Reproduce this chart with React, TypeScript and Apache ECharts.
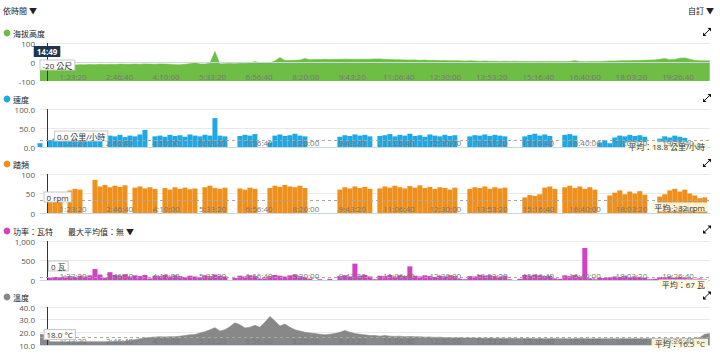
import React, { useEffect, useRef } from "react";
import * as echarts from "echarts";

// sampling grid of the activity (seconds)
const startSec = 1455;
const stepSec = 537;
const axisMinSec = 1455;
const axisMaxSec = 73440;
const timeTickSecs = [5000, 10000, 15000, 20000, 25000, 30000, 35000, 40000, 45000, 50000, 55000, 60000, 65000, 70000];
const cursorSec = 2210;
const cursorClock = "14:49";

const elevation = [
  -20, -19, -18, -17, -17, -16, -15, -16, -14, -15, -13, -14, -12, -13, -12, -13, -11, -12, -12, -11,
  -12, -10, -11, -12, -10, -11, -12, -14, -15, -12, -9, -4, -10, -11, -6, 55, -10, -9, -8, -9,
  -7, -6, -5, 2, -4, -5, -4, 5, 24, 8, 8, 9, 10, 18, 12, 13, 13, 14, 13, 14,
  14, 15, 14, 15, 15, 14, 15, 16, 16, 14, 13, 12, 12, 11, 10, 11, 9, 10, 8, 9,
  7, 8, 6, 7, 6, 5, 6, 5, 4, 5, 4, 4, 3, 4, 3, 4, 3, 3, 2, 3,
  3, 2, 3, 3, 2, 2, 3, 7, 2, 1, 2, 2, 3, 4, 5, 5, 6, 7, 7, 8,
  8, 9, 10, 11, 14, 18, 12, 13, 20, 21, 15, 8, 6, 6, 6,
];
const speed = [
  10, 0, 18, 22, 20, 24, 26, 22, 28, 25, 30, 27, 24, 0, 30, 28, 32, 26, 30, 28,
  33, 45, 0, 28, 30, 27, 32, 29, 31, 27, 33, 30, 28, 32, 30, 76, 30, 28, 0, 0,
  29, 32, 30, 34, 0, 0, 12, 30, 33, 29, 31, 35, 30, 28, 0, 0, 0, 0, 0, 0,
  27, 31, 29, 33, 30, 32, 28, 0, 29, 31, 34, 28, 32, 30, 35, 29, 31, 27, 33, 30,
  28, 32, 29, 31, 0, 0, 28, 31, 30, 33, 29, 32, 30, 28, 0, 0, 0, 28, 32, 35,
  30, 33, 29, 0, 0, 32, 34, 30, 0, 0, 0, 0, 12, 18, 10, 25, 30, 28, 32, 29,
  31, 27, 0, 0, 22, 28, 25, 30, 27, 24, 12, 8, 10, 6, 0,
];
const cadence = [
  0, 0, 45, 40, 42, 0, 58, 62, 60, 0, 0, 85, 68, 72, 66, 70, 67, 71, 0, 65,
  68, 63, 66, 62, 0, 64, 60, 66, 62, 65, 61, 63, 0, 66, 70, 64, 62, 65, 0, 0,
  63, 60, 65, 62, 0, 0, 64, 70, 67, 72, 68, 66, 70, 64, 0, 0, 0, 0, 0, 0,
  60, 66, 63, 68, 64, 67, 62, 0, 63, 68, 65, 70, 66, 63, 69, 65, 71, 64, 67, 62,
  66, 64, 60, 65, 0, 0, 62, 66, 64, 68, 62, 66, 63, 65, 0, 0, 0, 40, 46, 44,
  48, 65, 68, 62, 0, 66, 70, 64, 68, 62, 66, 60, 0, 0, 45, 52, 58, 48, 55, 50,
  56, 47, 0, 0, 42, 48, 58, 62, 55, 60, 50, 45, 38, 40, 0,
];
const power = [
  0, 0, 60, 80, 70, 90, 100, 80, 110, 90, 120, 280, 140, 60, 200, 130, 110, 150, 90, 120,
  100, 130, 40, 110, 100, 130, 90, 120, 100, 80, 110, 90, 70, 120, 100, 140, 110, 90, 0, 50,
  110, 90, 120, 100, 30, 40, 100, 130, 110, 90, 120, 140, 100, 80, 30, 0, 20, 0, 30, 0,
  100, 120, 90, 420, 110, 130, 90, 20, 110, 100, 130, 90, 120, 100, 350, 110, 90, 120, 100, 80,
  110, 90, 120, 100, 30, 20, 100, 90, 130, 110, 120, 100, 90, 110, 20, 0, 30, 130, 110, 140,
  120, 100, 110, 40, 30, 120, 100, 130, 90, 820, 40, 20, 60, 50, 70, 90, 80, 100, 70, 90,
  80, 60, 20, 30, 80, 70, 90, 60, 80, 50, 40, 30, 40, 20, 0,
];
const temperature = [
  18.4, 18.0, 12.6, 12.5, 12.6, 12.5, 12.6, 12.5, 12.6, 12.5, 12.6, 12.6, 12.5, 12.6, 12.7, 12.6, 12.8, 13.0, 13.5, 14.2,
  15.0, 15.5, 16.0, 16.3, 16.5, 16.4, 16.6, 16.5, 17.0, 17.5, 18.0, 18.2, 19.5, 20.5, 22.0, 23.7, 21.0, 22.0, 24.5, 27.5,
  26.0, 23.5, 24.0, 25.5, 24.0, 28.0, 32.5, 29.0, 25.0, 26.5, 24.0, 22.0, 21.0, 20.0, 19.5, 19.0, 18.5, 18.0, 18.5, 19.0,
  20.0, 21.5, 20.0, 19.0, 18.5, 18.0, 17.5, 17.5, 17.0, 17.5, 17.0, 16.8, 17.0, 16.5, 16.8, 16.5, 16.5, 16.2, 16.4, 16.0,
  16.2, 15.8, 15.8, 15.6, 15.8, 15.5, 15.6, 15.5, 15.5, 15.4, 15.5, 15.3, 15.4, 15.2, 15.3, 15.2, 15.2, 15.1, 15.2, 15.0,
  15.1, 15.0, 15.0, 15.1, 15.0, 15.0, 14.9, 15.0, 15.2, 15.0, 14.9, 15.0, 15.0, 14.9, 15.0, 15.0, 14.9, 15.0, 15.0, 15.0,
  15.0, 15.0, 15.0, 15.0, 15.0, 15.0, 15.0, 15.0, 15.0, 15.0, 15.1, 15.2, 16.0, 18.5, 19.0,
];

const avgSpeed = 18.8;
const avgCadence = 32;
const avgPower = 67;
const avgTemp = 16.5;

const cursorLabels = ["-20 公尺", "0.0 公里/小時", "0 rpm", "0 瓦", "18.0 °C"];
const avgLabels = ["", "平均：18.8 公里/小時", "平均：32 rpm", "平均：67 瓦", "平均：16.5 °C"];
const titles = ["海拔高度", "速度", "踏頻", "功率：瓦特", "溫度"];

const FONT = "'Open Sans', 'Noto Sans CJK TC', sans-serif";
const COLORS = ["#6ebd44", "#1fa9e4", "#f0901c", "#d63fc3", "#888888"];

const grids = [
  { top: 43, height: 38 },
  { top: 109, height: 38 },
  { top: 174, height: 39 },
  { top: 241, height: 39 },
  { top: 307, height: 38 },
];
const titleY = [33, 99, 164, 231, 297];
const iconY = [32, 98, 163, 229.5, 295.5];

const hms = (s: number) => {
  const h = Math.floor(s / 3600);
  const m = Math.floor((s % 3600) / 60);
  const ss = Math.round(s % 60);
  return `${h}:${String(m).padStart(2, "0")}:${String(ss).padStart(2, "0")}`;
};
const toPoints = (arr: number[]) => arr.map((v, i) => [startSec + i * stepSec, v]);

export default function App() {
  const ref = useRef<HTMLDivElement>(null);
  useEffect(() => {
    if (!ref.current) return;
    const chart = echarts.init(ref.current, undefined, { renderer: "svg" });

    const yDefs = [
      { min: -100, max: 100, interval: 100, fmt: (v: number) => String(v), split: ["transparent", "transparent", "#e9e9e9"] },
      { min: 0, max: 100, interval: 50, fmt: (v: number) => v.toFixed(1), split: ["transparent", "#e9e9e9", "#e9e9e9"] },
      { min: 0, max: 100, interval: 50, fmt: (v: number) => String(v), split: ["transparent", "#e9e9e9", "#e9e9e9"] },
      { min: 0, max: 1000, interval: 500, fmt: (v: number) => v.toLocaleString("en-US"), split: ["transparent", "#e9e9e9", "#e9e9e9"] },
      { min: 10, max: 40, interval: 10, fmt: (v: number) => v.toFixed(1), split: ["transparent", "#e9e9e9", "#e9e9e9", "#e9e9e9"] },
    ];
    const datas = [elevation, speed, cadence, power, temperature];
    const avgs = [null, avgSpeed, avgCadence, avgPower, avgTemp];

    const cursorLine = {
      xAxis: cursorSec,
      lineStyle: { color: "#333", width: 1, type: "solid" },
      label: { show: false },
    };

    const series: any[] = datas.map((d, k) => {
      const mlData: any[] = [cursorLine];
      if (avgs[k] !== null) {
        mlData.push({
          yAxis: avgs[k],
          lineStyle: { color: "#a8a8a8", width: 1, type: [3, 3] },
          label: {
            show: true,
            position: "insideEndBottom",
            formatter: avgLabels[k],
            color: "#333",
            fontSize: 8,
            fontFamily: FONT,
            backgroundColor: "rgba(255,251,222,0.92)",
            padding: [1, 3, 0, 3],
            distance: 2,
          },
        });
      }
      const common = {
        xAxisIndex: k,
        yAxisIndex: k,
        data: toPoints(d),
        silent: true,
        markLine: { symbol: "none", silent: true, data: mlData, animation: false },
      };
      if (k === 0 || k === 4) {
        return {
          ...common,
          type: "line",
          showSymbol: false,
          lineStyle: { width: 0.6, color: COLORS[k] },
          areaStyle: { color: COLORS[k], opacity: 1, origin: "start" },
        };
      }
      return {
        ...common,
        type: "bar",
        barWidth: 5,
        itemStyle: { color: COLORS[k] },
      };
    });

    const option: any = {
      animation: false,
      grid: grids.map((g) => ({ left: 40, right: 10, top: g.top, height: g.height })),
      xAxis: grids.map((_, k) => ({
        type: "value",
        gridIndex: k,
        min: axisMinSec,
        max: axisMaxSec,
        z: 5,
        axisLine: { show: true, lineStyle: { color: "#c8d8e6", width: 1 } },
        axisTick: { show: false },
        splitLine: { show: false },
        axisLabel: {
          inside: true,
          customValues: timeTickSecs,
          formatter: (v: number) => hms(v),
          color: "#777",
          fontSize: 8,
          fontFamily: FONT,
          margin: 1,
        },
      })),
      yAxis: yDefs.map((y, k) => ({
        type: "value",
        gridIndex: k,
        min: y.min,
        max: y.max,
        interval: y.interval,
        axisLine: { show: false },
        axisTick: { show: false },
        splitLine: { show: true, lineStyle: { color: y.split, width: 1 } },
        axisLabel: { formatter: y.fmt, color: "#555", fontSize: 8, fontFamily: FONT, margin: 5 },
      })),
      series,
    };
    chart.setOption(option);

    const cx = chart.convertToPixel({ xAxisIndex: 0 }, cursorSec) as number;
    const boxStyle = (text: string) => ({
      text,
      fill: "#333",
      font: `8px ${FONT}`,
      backgroundColor: "rgba(255,255,255,0.95)",
      borderColor: "#c8c8c8",
      borderWidth: 1,
      padding: [1, 2, 0, 2],
      verticalAlign: "middle",
    });
    const boxOffsets = [
      [-6.5, 65],
      [8, 136],
      [-2.5, 197],
      [2, 266],
      [-2.5, 334.5],
    ];

    const graphic: any[] = [
      { type: "text", x: 3, y: 10.5, style: { text: "依時間 ▼", fill: "#222", font: `8px ${FONT}`, verticalAlign: "middle" } },
      { type: "text", x: 714, y: 10.5, style: { text: "自訂 ▼", fill: "#222", font: `8px ${FONT}`, align: "right", verticalAlign: "middle" } },
      { type: "text", x: 68, y: 231, style: { text: "最大平均值：無 ▼", fill: "#222", font: `8px ${FONT}`, verticalAlign: "middle" } },
      {
        type: "text",
        x: cx,
        y: 51.5,
        z: 100,
        style: {
          text: cursorClock,
          fill: "#fff",
          font: `bold 8px ${FONT}`,
          backgroundColor: "#1c3652",
          padding: [2, 3, 1, 3],
          align: "center",
          verticalAlign: "middle",
        },
      },
    ];
    titles.forEach((t, k) => {
      graphic.push({ type: "circle", shape: { cx: 7, cy: titleY[k], r: 3.4 }, style: { fill: COLORS[k] } });
      graphic.push({ type: "text", x: 13, y: titleY[k], style: { text: t, fill: "#222", font: `8px ${FONT}`, verticalAlign: "middle" } });
      const yc = iconY[k];
      graphic.push({ type: "line", shape: { x1: 704.5, y1: yc + 2.5, x2: 709.5, y2: yc - 2.5 }, style: { stroke: "#111", lineWidth: 1 } });
      graphic.push({ type: "polygon", shape: { points: [[711, yc - 4], [707.5, yc - 4], [711, yc - 0.5]] }, style: { fill: "#111" } });
      graphic.push({ type: "polygon", shape: { points: [[703, yc + 4], [706.5, yc + 4], [703, yc + 0.5]] }, style: { fill: "#111" } });
      graphic.push({
        type: "text",
        x: cx + boxOffsets[k][0],
        y: boxOffsets[k][1],
        z: 100,
        style: boxStyle(cursorLabels[k]),
      });
    });
    chart.setOption({ graphic });

    return () => chart.dispose();
  }, []);
  return <div ref={ref} style={{ position: "fixed", left: 0, top: 0, width: 720, height: 359, background: "#fff" }} />;
}
